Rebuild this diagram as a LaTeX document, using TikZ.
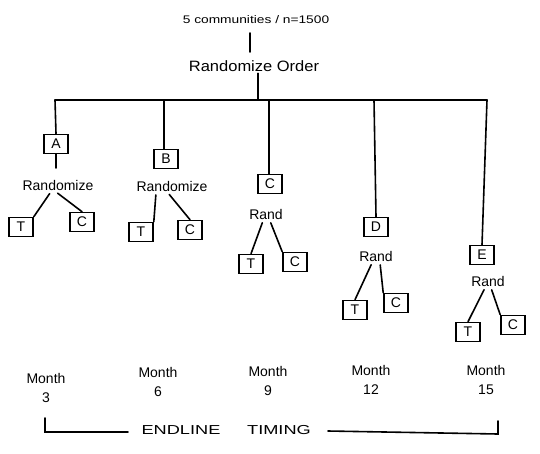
\documentclass[tikz,border=0pt]{standalone}
\usepackage{fontspec}
\setmainfont{Liberation Sans}
\begin{document}
\begin{tikzpicture}[x=1pt,y=-1pt,line width=1.6pt,line cap=round,
  lbl/.style={inner sep=1pt,font=\fontsize{14}{15}\selectfont},
  box/.style={draw,inner sep=0pt,minimum width=24pt,minimum height=19pt,font=\fontsize{14}{15}\selectfont},
  mon/.style={inner sep=1pt,align=center,font=\fontsize{14}{19}\selectfont},
  tc/.style={shorten <=2pt}]
\useasboundingbox (0,0) rectangle (540,453);
% top
\node[lbl] (top) at (256,20) {\scalebox{1.25}[1]{\fontsize{11}{12}\selectfont 5 communities / n=1500}};
\node[lbl] (ord) at (254,66) {\scalebox{1.1}[1]{\fontsize{15}{16}\selectfont Randomize Order}};
\coordinate (t1) at (250,33);
\coordinate (t2) at (250,52);
\draw (t1) -- (t2);
\coordinate (j) at (258,100);
\draw (ord.south -| j) -- (j);
\coordinate (bl) at (55,100);
\coordinate (br) at (487,100);
\draw (bl) -- (br);
% A
\node[box] (A) at (56,144) {A};
\node[lbl] (rA) at (58,185) {Randomize};
\node[box] (tA) at (21,227) {T};
\node[box] (cA) at (82,222) {C};
\coordinate (aEnd) at (56,168);
\draw (bl) -- (A.north);
\draw (A.south) -- (aEnd);
\draw[tc] (rA.south west) ++(30,0) -- (tA.north east);
\draw[tc] (rA.south) ++(-2,0) -- (cA.north);
% B
\coordinate (bB) at (164,100);
\node[box] (B) at (166,159) {B};
\node[lbl] (rB) at (172,186) {Randomize};
\node[box] (tB) at (141,232) {T};
\node[box] (cB) at (190,230) {C};
\draw (bB) -- (B.north -| bB);
\draw[tc] (rB.south) ++(-16,0) -- (tB.north east);
\draw[tc] (rB.south) ++(-4,0) -- (cB.north);
% C
\coordinate (bC) at (269,100);
\node[box] (C) at (270,184) {C};
\node[lbl] (rC) at (266,214) {Rand};
\node[box] (tC) at (251,264) {T};
\node[box] (cC) at (295,262) {C};
\draw (bC) -- (C.north -| bC);
\draw[tc] (rC.south) ++(-3,0) -- (tC.north);
\draw[tc] (rC.south) ++(4,0) -- (cC.north west);
% D
\coordinate (bD) at (374,100);
\node[box] (D) at (376,227) {D};
\node[lbl] (rD) at (376,256) {Rand};
\node[box] (tD) at (355,310) {T};
\node[box] (cD) at (396,303) {C};
\draw (bD) -- (D.north);
\draw[tc] (rD.south) ++(-4,0) -- (tD.north);
\draw[tc] (rD.south) ++(4,0) -- (cD.north west);
% E
\node[box] (E) at (482,255) {E};
\node[lbl] (rE) at (488,281) {Rand};
\node[box] (tE) at (468,332) {T};
\node[box] (cE) at (513,325) {C};
\draw (br) -- (E.north);
\draw[tc] (rE.south) ++(-3,0) -- (tE.north);
\draw[tc] (rE.south) ++(3,0) -- (cE.north west);
% months
\node[mon] (m3) at (46,388) {Month\\3};
\node[mon] (m6) at (158,382) {Month\\6};
\node[mon] (m9) at (268,381) {Month\\9};
\node[mon] (m12) at (371,380) {Month\\12};
\node[mon] (m15) at (486,380) {Month\\15};
% endline timing
\node[lbl] (en) at (181,430) {\scalebox{1.4}[1]{\fontsize{13}{14}\selectfont ENDLINE}};
\node[lbl] (ti) at (279,430) {\scalebox{1.4}[1]{\fontsize{13}{14}\selectfont TIMING}};
\coordinate (ltop) at (45,418);
\coordinate (lbot) at (45,432);
\coordinate (lend) at (128,432);
\coordinate (rstart) at (328,431);
\coordinate (rtop) at (498,421);
\coordinate (rbot) at (498,434);
\draw (ltop) -- (lbot) -- (lend);
\draw (rstart) -- (rbot) -- (rtop);
\end{tikzpicture}
\end{document}
